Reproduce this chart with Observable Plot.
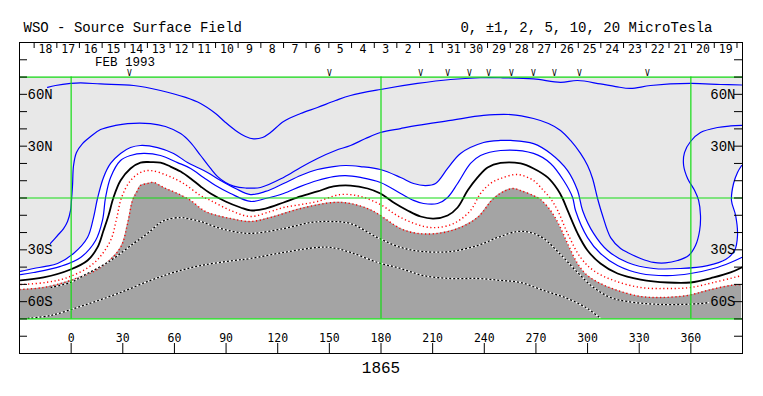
<!DOCTYPE html>
<html><head><meta charset="utf-8">
<script src="https://cdn.jsdelivr.net/npm/d3@7"></script>
<script src="https://cdn.jsdelivr.net/npm/@observablehq/plot@0.6"></script>
<style>html,body{margin:0;padding:0;background:#fff;} svg{display:block}</style>
</head><body>
<div id="chart"></div>
<script>
// ---- axes / frame values ----
const lonRange = [-30, 390];
const latRange = [-90, 90];
const mapLat = [-70, 70];
const gridLats = [-70, 0, 70];
const gridLons = [0, 180, 360];
const lonTicks = [0, 30, 60, 90, 120, 150, 180, 210, 240, 270, 300, 330, 360];
const latTicks = [-80, -70, -60, -50, -40, -30, -20, -10, 0, 10, 20, 30, 40, 50, 60, 70, 80];
const latLabelValues = [60, 30, -30, -60];
const latLabelText = ["60N", "30N", "30S", "60S"];

// ---- header: days of rotation 1865 ----
const dayLabels = ["18","17","16","15","14","13","12","11","10","9","8","7","6","5","4","3","2","1",
                   "31","30","29","28","27","26","25","24","23","22","21","20","19"];
const dayLons = [-14.9,-1.7,11.4,24.6,37.8,50.9,64.1,77.3,90.5,103.6,116.8,130.0,143.1,156.3,169.5,182.7,
                 195.8,209.0,222.2,235.3,248.5,261.7,274.8,288.0,301.2,314.3,327.5,340.7,353.9,367.0,380.2];
const dayBounds = [-21.5,-8.3,4.8,18.0,31.2,44.3,57.5,70.7,83.9,97.0,110.2,123.4,136.5,149.7,162.9,176.1,
                   189.2,202.4,215.6,228.7,241.9,255.1,268.2,281.4,294.6,307.7,320.9,334.1,347.3,360.4,373.6,386.8];
const markLons = [33.9, 150.1, 203.0, 218.7, 231.4, 242.5, 255.8, 268.6, 280.8, 295.3, 334.8];
const monthText = "FEB 1993";
const monthLon = 31.3;
const titleText = "WSO - Source Surface Field";
const levelsText = "0, \u00B11, 2, 5, 10, 20 MicroTesla";
const rotationText = "1865";

// ---- contours [longitude, latitude] ----
const contourP10 = [[-13.7,64.0],[-9.1,65.1],[-0.3,66.3],[5.5,66.6],[17.1,66.0],[36.3,65.1],[51.9,62.2],[66.5,58.2],[75.2,54.7],[83.9,48.9],[89.7,43.7],[95.5,39.1],[101.3,35.6],[106.0,34.2],[111.2,35.0],[115.8,37.9],[123.4,44.3],[133.3,48.9],[143.1,52.4],[153.6,56.4],[162.3,59.3],[179.7,62.8],[201.2,66.3],[220.4,68.6],[237.8,69.6],[249.5,69.6],[268.6,68.9],[284.3,66.9],[294.2,68.0],[307.5,66.0],[316.3,64.5],[325.0,63.4],[336.6,65.1],[359.8,66.3],[377.3,65.7],[389.5,65.4]];

const contourP5 = [[-12.0,-26.3],[-7.9,-21.7],[-4.4,-17.7],[-2.1,-13.6],[-0.35,-7.2],[0.2,-1.4],[0.8,7.2],[1.4,18.8],[3.1,26.3],[6.6,31.5],[11.3,35.6],[17.1,39.6],[25.8,42.0],[32.8,43.1],[46.1,43.1],[54.8,41.4],[63.6,37.3],[69.4,32.1],[75.2,24.6],[81.0,17.1],[85.1,12.4],[89.7,9.0],[94.4,6.9],[101.3,5.8],[110.0,6.1],[123.4,11.9],[133.3,17.7],[143.1,22.9],[153.6,27.5],[162.3,30.4],[171.0,34.4],[179.7,37.9],[191.4,40.2],[201.2,42.0],[220.4,44.9],[239.6,47.8],[255.3,48.3],[268.6,46.0],[277.3,43.1],[284.3,39.1],[290.1,33.3],[295.9,25.8],[300.0,18.8],[302.9,11.3],[305.8,-0.3],[308.7,-10.1],[313.4,-22.9],[319.2,-29.2],[323.2,-31.5],[330.8,-35.0],[338.3,-37.3],[345.3,-37.6],[352.3,-36.2],[358.7,-33.3],[362.7,-27.5],[365.1,-18.8],[365.6,-10.1],[364.5,-1.4],[362.2,4.3],[358.1,11.3],[355.8,18.8],[356.3,26.3],[359.8,32.7],[365.6,37.9],[375.5,40.8],[383.1,41.7],[389.5,42.0]];

const contourP2 = [[-29.4,-42.5],[-21.8,-40.8],[-14.9,-39.6],[-7.9,-37.9],[1.4,-32.1],[9.5,-22.9],[13.0,-11.3],[15.3,-0.3],[18.8,11.9],[22.9,20.0],[28.7,25.8],[34.5,29.2],[40.3,30.4],[50.2,29.2],[59.5,25.8],[67.6,20.5],[73.4,17.7],[79.2,14.8],[86.8,10.1],[95.5,5.5],[104.2,2.0],[112.9,3.8],[123.4,8.4],[133.3,13.0],[143.1,16.5],[152.4,18.2],[159.4,18.8],[168.1,18.2],[179.7,16.5],[191.4,11.9],[198.9,8.4],[205.9,7.2],[211.7,8.4],[218.7,17.1],[226.2,25.8],[239.6,32.1],[249.5,33.3],[255.3,33.3],[268.6,31.5],[278.5,25.8],[288.4,15.9],[294.2,4.3],[297.1,-7.2],[303.5,-20.5],[311.6,-30.4],[323.2,-37.3],[338.3,-40.8],[354.0,-40.8],[369.7,-39.1],[380.2,-35.6],[385.4,-30.4],[387.1,-21.7],[386.0,-10.1],[383.6,-1.4],[384.8,8.4],[387.1,14.8],[389.5,18.8]];

const contourP1 = [[-29.4,-44.3],[-21.8,-43.1],[-6.2,-39.6],[5.5,-34.4],[14.2,-24.6],[18.2,-13.0],[20.0,0.3],[22.9,11.9],[28.7,21.7],[34.5,24.6],[42.1,25.8],[51.9,24.6],[61.8,20.5],[69.4,17.1],[76.9,11.9],[83.9,7.2],[92.6,2.6],[104.2,-2.0],[112.9,-0.3],[123.4,2.6],[133.3,6.7],[143.1,10.1],[152.4,12.4],[159.4,13.0],[168.1,11.9],[179.7,9.0],[191.4,2.6],[198.9,-1.4],[204.7,-3.2],[212.9,-3.2],[218.7,0.3],[224.5,8.4],[232.0,20.0],[237.8,24.6],[249.5,27.5],[268.6,25.8],[278.5,20.0],[286.1,10.1],[291.3,0.3],[293.0,-7.2],[300.0,-22.9],[307.5,-32.1],[317.4,-39.1],[330.8,-43.7],[346.5,-44.9],[359.8,-43.7],[373.2,-40.8],[383.1,-37.3],[389.5,-34.4]];

const contourZero = [[-29.4,-47.7],[-16.0,-46.0],[-0.35,-41.4],[9.5,-36.2],[15.3,-28.6],[18.8,-18.8],[21.7,-10.1],[24.6,0.3],[28.7,10.1],[34.5,17.1],[40.3,20.5],[46.1,20.8],[51.9,20.5],[57.7,18.2],[63.6,15.3],[69.4,11.3],[75.2,6.7],[81.0,2.6],[89.7,-2.0],[98.4,-5.5],[104.2,-7.2],[112.9,-6.1],[123.4,-2.6],[133.3,0.9],[143.1,3.8],[152.4,6.7],[162.3,7.2],[172.2,5.5],[179.7,2.6],[187.3,-2.6],[195.4,-7.2],[203.0,-10.7],[210.5,-11.9],[218.7,-10.1],[224.5,-5.5],[230.3,4.3],[236.1,11.9],[241.9,17.7],[249.5,20.3],[261.1,20.0],[268.6,17.1],[276.8,11.9],[282.6,4.9],[285.5,-0.3],[288.4,-7.2],[294.2,-20.5],[300.0,-30.4],[307.5,-37.9],[317.4,-43.7],[330.8,-47.2],[346.5,-48.9],[359.8,-48.9],[373.2,-46.0],[383.1,-43.1],[389.5,-40.2]];

const contourM1 = [[-29.4,-50.1],[-14.9,-48.9],[-2.1,-46.0],[13.0,-37.9],[22.9,-24.6],[26.4,-11.9],[29.3,0.3],[34.5,10.1],[40.3,14.8],[46.1,15.9],[56.0,13.0],[65.3,8.4],[75.2,1.4],[81.0,-1.4],[92.6,-7.2],[104.2,-10.7],[115.8,-7.8],[123.4,-5.5],[133.3,-3.8],[143.1,-2.0],[156.5,2.0],[168.1,0.9],[179.7,-3.8],[191.4,-11.3],[208.8,-17.1],[222.1,-14.8],[232.0,-7.2],[237.8,2.6],[243.6,8.4],[249.5,11.3],[259.3,13.6],[268.6,10.1],[274.4,4.3],[278.5,-0.3],[282.6,-7.2],[288.4,-20.5],[295.9,-34.4],[303.5,-42.0],[315.1,-47.7],[330.8,-51.8],[346.5,-52.4],[359.8,-51.8],[373.2,-48.9],[389.5,-44.9]];

const contourM2 = [[-30.0,-53.0],[-16.0,-51.8],[-0.35,-47.7],[17.1,-40.2],[28.7,-28.6],[32.8,-14.8],[35.7,-1.4],[38.6,4.3],[40.3,7.2],[44.4,8.4],[47.9,9.0],[53.7,6.1],[61.8,2.6],[69.4,-1.4],[76.9,-7.2],[81.0,-9.0],[92.6,-11.9],[104.2,-13.6],[115.8,-11.3],[133.3,-6.1],[152.4,-2.6],[162.3,-3.2],[172.2,-6.1],[178.0,-9.0],[191.4,-17.7],[201.2,-20.5],[212.9,-20.5],[224.5,-17.7],[236.1,-11.3],[245.4,-0.3],[252.4,4.3],[257.0,5.5],[261.1,4.3],[268.6,1.4],[272.7,-0.9],[278.5,-7.2],[283.1,-14.8],[288.4,-26.3],[294.2,-37.9],[300.0,-44.9],[307.5,-49.5],[317.4,-53.5],[330.8,-57.0],[342.4,-57.6],[358.1,-56.4],[369.7,-53.5],[383.1,-50.6],[389.5,-50.1]];

const contourM5 = [[-12.0,-51.8],[-0.35,-48.9],[7.2,-44.9],[22.9,-36.2],[36.3,-26.3],[44.4,-20.5],[51.9,-14.2],[56.0,-12.4],[63.6,-11.3],[67.6,-11.9],[75.2,-13.6],[85.1,-17.1],[94.4,-19.4],[104.2,-20.5],[123.4,-17.7],[139.1,-14.2],[150.7,-13.6],[162.3,-14.8],[178.0,-22.9],[191.4,-28.6],[204.7,-31.0],[220.4,-31.0],[236.1,-27.5],[247.7,-22.9],[259.3,-19.4],[266.9,-20.0],[274.4,-23.4],[284.3,-32.7],[294.2,-43.1],[303.5,-51.8],[313.4,-57.6],[323.2,-59.9],[342.4,-61.6],[365.6,-61.1],[370.3,-60.5]];

const contourM10 = [[-25.3,-69.7],[-12.0,-68.0],[7.2,-62.2],[27.0,-55.3],[46.1,-47.7],[59.5,-43.1],[75.2,-39.1],[94.4,-36.2],[104.2,-35.0],[123.4,-31.5],[143.1,-28.6],[150.7,-28.6],[162.3,-31.5],[178.0,-37.3],[191.4,-40.8],[204.7,-44.9],[220.4,-46.6],[236.1,-46.6],[249.5,-47.7],[261.1,-48.9],[274.4,-53.5],[288.4,-58.2],[300.0,-64.0],[307.5,-69.7]];

// ---- styles ----
const GREEN = "#14dc14", BLUE = "#0000ff", RED = "#ff0000";
const LIGHT = "#e8e8e8", DARK = "#a4a4a4";
const MONO = "Liberation Mono, DejaVu Sans Mono, monospace";
const CURVE = "catmull-rom";
const X = d => d[0], Y = d => d[1];
const whiteRegion = [...contourP2, [lonRange[1], mapLat[0]], [lonRange[0], mapLat[0]]];
const FW = 723, FH = 311; // frame size in px, for insets

const blue = c => Plot.line(c, {x: X, y: Y, stroke: BLUE, strokeWidth: 1.2, curve: CURVE});
const bw = c => [
  Plot.line(c, {x: X, y: Y, stroke: "white", strokeWidth: 1.3, curve: CURVE}),
  Plot.line(c, {x: X, y: Y, stroke: "black", strokeWidth: 1.3, strokeDasharray: "2,2", strokeLinecap: "butt", curve: CURVE})
];

const chart = Plot.plot({
  width: 763, height: 396,
  marginTop: 42, marginBottom: 43, marginLeft: 19, marginRight: 21,
  x: {domain: lonRange, axis: null},
  y: {domain: latRange, axis: null},
  style: {background: "white", fontFamily: MONO, color: "black"},
  marks: [
    Plot.rect([0], {x1: lonRange[0], x2: lonRange[1], y1: mapLat[0], y2: mapLat[1], fill: LIGHT}),
    Plot.line(whiteRegion, {x: X, y: Y, fill: "white", stroke: "none", curve: "linear"}),
    Plot.areaY(contourM2, {x: X, y1: mapLat[0], y2: Y, fill: DARK, curve: CURVE}),
    Plot.line(contourM2, {x: X, y: Y, stroke: RED, strokeWidth: 1.4, strokeDasharray: "1.2,2.6", strokeLinecap: "butt", curve: CURVE}),
    ...bw(contourM5),
    ...bw(contourM10),
    blue(contourP10), blue(contourP5), blue(contourP2), blue(contourP1),
    Plot.line(contourZero, {x: X, y: Y, stroke: "black", strokeWidth: 1.8, curve: CURVE}),
    Plot.line(contourM1, {x: X, y: Y, stroke: RED, strokeWidth: 1.4, strokeDasharray: "1.2,2.6", strokeLinecap: "butt", curve: CURVE}),
    // green grid
    Plot.ruleY(gridLats, {stroke: GREEN, strokeWidth: 1.2}),
    Plot.ruleX(gridLons, {y1: mapLat[0], y2: mapLat[1], stroke: GREEN, strokeWidth: 1.2}),
    // header strip
    Plot.tickX(dayBounds, {stroke: "black", insetBottom: FH - 6}),
    Plot.text(dayLabels, {x: dayLons, frameAnchor: "top", lineAnchor: "middle", dy: 7, fontSize: 11.5, fontFamily: "DejaVu Sans Mono"}),
    Plot.text(markLons, {x: d => d, text: () => "V", frameAnchor: "top", lineAnchor: "middle", dy: 31, fontSize: 8, fontFamily: "DejaVu Sans Mono"}),
    Plot.text([monthText], {x: [monthLon], frameAnchor: "top", lineAnchor: "middle", dy: 19.5, fontSize: 12.5}),
    // lat ticks and labels
    Plot.tickY(latTicks, {stroke: "black", insetRight: FW - 8}),
    Plot.tickY(latTicks, {stroke: "black", insetLeft: FW - 8}),
    Plot.text(latLabelText, {y: latLabelValues, frameAnchor: "left", textAnchor: "start", lineAnchor: "middle", dx: 8, fontSize: 14}),
    Plot.text(latLabelText, {y: latLabelValues, frameAnchor: "right", textAnchor: "end", lineAnchor: "middle", dx: -7, fontSize: 14}),
    // lon ticks and labels
    Plot.tickX(lonTicks, {stroke: "black", insetTop: FH - 10}),
    Plot.text(lonTicks, {x: d => d, text: d => String(d), frameAnchor: "bottom", lineAnchor: "middle", dy: -15, fontSize: 11.5, fontFamily: "DejaVu Sans Mono"}),
    // titles
    Plot.text([titleText], {frameAnchor: "top-left", textAnchor: "start", lineAnchor: "middle", dx: 4, dy: -15, fontSize: 14}),
    Plot.text([levelsText], {frameAnchor: "top-right", textAnchor: "end", lineAnchor: "middle", dx: -30, dy: -15, fontSize: 14}),
    Plot.text([rotationText], {frameAnchor: "bottom", lineAnchor: "middle", dy: 14, fontSize: 16}),
    Plot.frame({stroke: "black", strokeWidth: 1})
  ]
});
document.getElementById("chart").appendChild(chart);
</script>
</body></html>
